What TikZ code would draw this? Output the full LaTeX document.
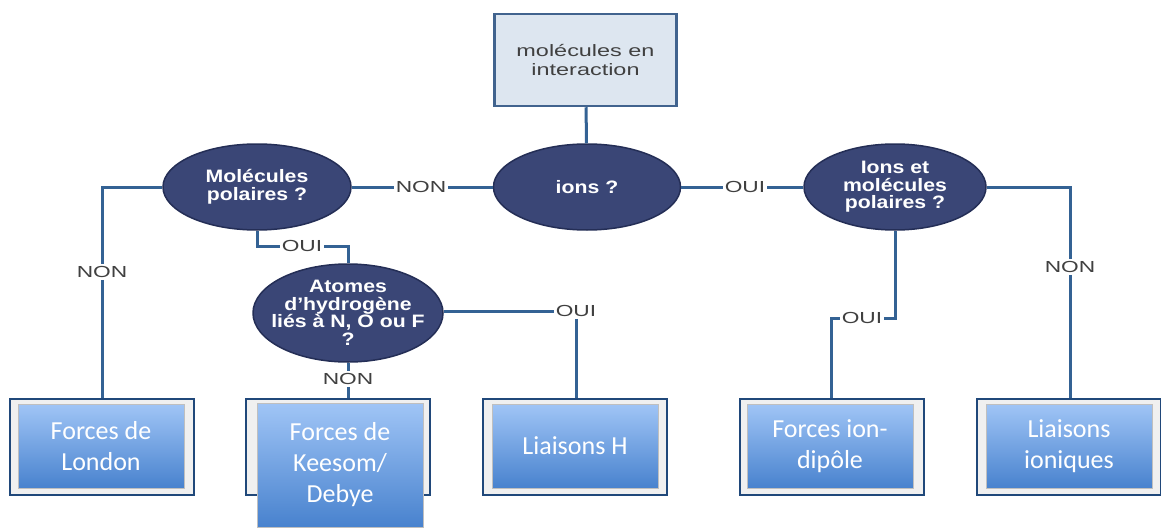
\documentclass[tikz,border=0pt]{standalone}
\usepackage{fontspec}
\setmainfont{Liberation Sans}
\newfontfamily\arialw[FakeStretch=1.18]{Liberation Sans}
\newfontfamily\arialx[FakeStretch=1.42]{Liberation Sans}
\newfontfamily\calib{Carlito}
\usetikzlibrary{shapes.geometric}
\definecolor{trait}{RGB}{52,98,148}
\definecolor{marine}{RGB}{58,70,118}
\definecolor{marinebord}{RGB}{36,46,86}
\definecolor{grisbleu}{RGB}{221,230,240}
\definecolor{cadre}{RGB}{32,72,122}
\definecolor{bleuhaut}{RGB}{160,197,246}
\definecolor{bleubas}{RGB}{72,130,206}
\definecolor{texte}{RGB}{64,64,64}
\begin{document}
\begin{tikzpicture}[x=1pt,y=-1pt,
    question/.style={ellipse,fill=marine,draw=marinebord,line width=1.5pt,inner sep=0pt,
        text=white,align=center,font=\arialw\bfseries\fontsize{18}{17.5}\selectfont},
    lien/.style={draw=trait,line width=3pt},
    rep/.style={fill=white,text=texte,inner sep=2pt,font=\arialx\fontsize{16}{16}\selectfont},
    cadreext/.style={draw=cadre,line width=2pt,fill=black!6,minimum width=184pt,minimum height=96pt},
    resultat/.style={top color=bleuhaut,bottom color=bleubas,draw=black!25,line width=1pt,
        text=white,align=center,minimum width=166pt,minimum height=84pt,
        font=\calib\fontsize{26}{31}\selectfont}]
                \useasboundingbox (0,0) rectangle (1161,527);
                % depart
                \node[draw=cadre!85,line width=2.5pt,fill=grisbleu,text=texte,align=center,
                    minimum width=182pt,minimum height=92pt,font=\arialx\fontsize{16.5}{19}\selectfont]
                    (top) at (585.5,60) {molécules en\\interaction};
                % questions
                \node[question,minimum width=188pt,minimum height=86pt] (polar) at (257,187) {Molécules\\polaires ?};
                \node[question,minimum width=187pt,minimum height=86pt] (ions) at (587,187) {ions ?};
                \node[question,minimum width=182pt,minimum height=86pt] (ionpol) at (895,187) {Ions et\\molécules\\polaires ?};
                \node[question,inner xsep=-30pt,inner ysep=-12pt,minimum width=190pt,minimum height=98pt]
                    (atomes) at (348,313) {Atomes\\d’hydrogène\\liés à N, O ou F\\?};
                % reponses
                \node[rep] (non1) at (421,187) {NON};
                \node[rep] (oui1) at (745,187) {OUI};
                \node[rep] (non2) at (102,272) {NON};
                \node[rep] (oui2) at (302,246) {OUI};
                \node[rep] (oui3) at (576,311) {OUI};
                \node[rep] (non3) at (348,379) {NON};
                \node[rep] (oui4) at (862,318) {OUI};
                \node[rep] (non4) at (1070,267) {NON};
                % resultats
                \node[cadreext] (londonF) at (101.5,447) {};
                \node[resultat] (london) at (101,446) {Forces de\\London};
                \node[cadreext] (keesomF) at (338,447) {};
                \node[resultat,minimum height=124pt] (keesom) at (340,465) {Forces de\\Keesom/\\Debye};
                \node[cadreext] (hF) at (574.5,447) {};
                \node[resultat] (liaisonH) at (575,446) {Liaisons H};
                \node[cadreext] (dipF) at (831.5,447) {};
                \node[resultat] (dipole) at (830,446) {Forces ion-\\dipôle};
                \node[cadreext] (ioniqF) at (1069,447) {};
                \node[resultat] (ionique) at (1069,446) {Liaisons\\ioniques};
                % liens
                \draw[lien] (top) -- (ions);
                \draw[lien] (polar) -- (non1) -- (ions);
                \draw[lien] (ions) -- (oui1) -- (ionpol);
                \draw[lien] (polar.west) -| (non2) -- (non2 |- londonF.north);
                \draw[lien] (polar.south) |- (oui2) -| (atomes.north);
                \draw[lien] (atomes.east |- oui3) -- (oui3) -- (oui3 |- hF.north);
                \draw[lien] (atomes) -- (non3) -- (non3 |- keesomF.north);
                \draw[lien] (ionpol.south) |- (oui4) -| (dipF.north);
                \draw[lien] (ionpol.east) -| (non4) -- (non4 |- ioniqF.north);
            \end{tikzpicture}
\end{document}
